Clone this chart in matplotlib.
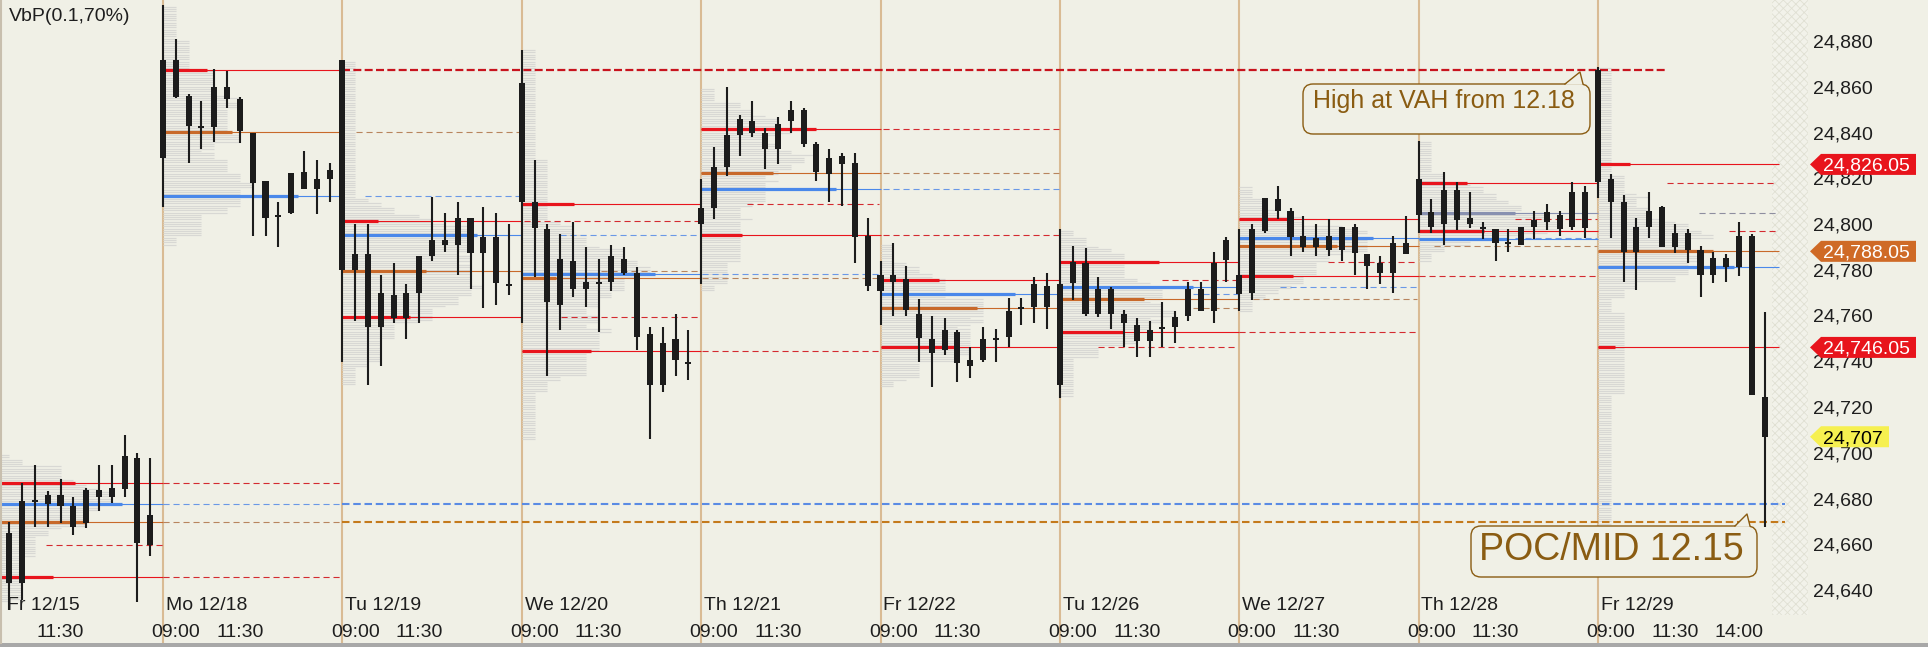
import numpy as np
import matplotlib
matplotlib.use("Agg")
import matplotlib.pyplot as plt
from matplotlib.patches import FancyBboxPatch, Polygon, Rectangle
from matplotlib.lines import Line2D
from matplotlib.transforms import Affine2D
from matplotlib.ticker import FuncFormatter

plt.rcParams['font.family'] = ['Liberation Sans', 'DejaVu Sans']
plt.rcParams['hatch.linewidth'] = 0.6

# ---------------------------------------------------------------- data
day_labels = ['Fr 12/15', 'Mo 12/18', 'Tu 12/19', 'We 12/20', 'Th 12/21',
              'Fr 12/22', 'Tu 12/26', 'We 12/27', 'Th 12/28', 'Fr 12/29']
time_labels = ['09:00', '11:30', '14:00']
time_label_bar = [1, 6, 11]
bars_per_day = 14
first_bar = 2            # first visible 30-min bar of Fr 12/15

bar_high = [
    # Fr 12/15
    24669.6, 24686.9, 24694.6, 24683.4, 24688.4, 24680.5, 24684.5, 24694.6, 24694.6, 24707.8, 24699.7, 24697.6,
    # Mo 12/18
    24895.7, 24880.7, 24856.7, 24853.8, 24867.6, 24867.0, 24855.6, 24839.9, 24818.8, 24809.7, 24822.5, 24831.9, 24828.0, 24826.8,
    # Tu 12/19
    24871.7, 24799.9, 24799.9, 24777.7, 24782.8, 24773.6, 24786.0, 24811.7, 24804.6, 24809.5, 24802.5, 24807.6, 24804.6, 24800.0,
    # We 12/20
    24876.1, 24828.0, 24799.9, 24795.6, 24801.0, 24789.8, 24784.7, 24790.8, 24789.8, 24781.3, 24754.8, 24754.8, 24760.7, 24753.7,
    # Th 12/21
    24819.5, 24833.5, 24859.8, 24847.7, 24853.8, 24841.8, 24846.6, 24853.8, 24850.6, 24835.7, 24832.7, 24830.9, 24830.9, 24802.5,
    # Fr 12/22
    24783.8, 24791.8, 24781.6, 24767.1, 24759.8, 24758.8, 24753.7, 24746.3, 24755.1, 24754.0, 24767.6, 24767.6, 24776.7, 24778.4,
    # Tu 12/26
    24797.7, 24790.5, 24789.7, 24776.7, 24772.6, 24762.6, 24758.8, 24757.6, 24765.8, 24761.8, 24774.5, 24774.5, 24787.6, 24794.4,
    # We 12/27
    24797.7, 24799.9, 24811.5, 24816.6, 24806.9, 24803.6, 24799.9, 24802.0, 24798.6, 24799.9, 24786.9, 24786.0, 24794.8, 24803.6,
    # Th 12/28
    24836.4, 24810.9, 24822.6, 24818.5, 24813.9, 24801.0, 24797.7, 24797.7, 24798.8, 24805.7, 24808.7, 24805.7, 24818.5, 24816.6,
    # Fr 12/29
    24868.8, 24821.9, 24812.7, 24802.5, 24813.9, 24807.9, 24800.0, 24797.7, 24790.4, 24787.9, 24786.9, 24801.0, 24795.6, 24761.7,
]
bar_low = [
    24631.3, 24635.6, 24667.7, 24667.7, 24669.2, 24664.0, 24667.0, 24674.7, 24677.9, 24680.8, 24634.9, 24654.9,
    24807.6, 24854.9, 24826.8, 24832.8, 24836.0, 24850.8, 24835.3, 24794.8, 24794.8, 24790.1, 24804.2, 24815.2, 24804.2, 24809.7,
    24739.8, 24757.6, 24729.6, 24737.9, 24756.9, 24749.7, 24756.9, 24784.0, 24787.9, 24777.7, 24771.8, 24763.1, 24764.6, 24769.0,
    24756.9, 24777.0, 24733.7, 24753.7, 24768.0, 24763.9, 24752.9, 24770.9, 24777.7, 24744.9, 24705.9, 24726.7, 24733.7, 24731.8,
    24773.8, 24802.0, 24821.1, 24829.7, 24838.2, 24823.9, 24826.1, 24839.9, 24833.8, 24819.0, 24809.7, 24808.0, 24783.1, 24770.9,
    24755.8, 24759.9, 24759.8, 24739.8, 24728.9, 24742.7, 24731.1, 24732.6, 24739.8, 24739.8, 24746.3, 24755.8, 24756.6, 24754.0,
    24724.1, 24766.8, 24759.9, 24759.2, 24754.0, 24746.3, 24742.0, 24742.0, 24746.3, 24748.0, 24757.6, 24762.0, 24756.9, 24774.8,
    24762.0, 24766.8, 24795.9, 24802.0, 24786.1, 24787.9, 24786.1, 24786.1, 24784.0, 24777.7, 24771.6, 24773.8, 24770.0, 24787.2,
    24795.9, 24795.9, 24790.8, 24797.4, 24798.1, 24793.3, 24784.0, 24787.9, 24790.8, 24793.3, 24797.4, 24794.8, 24797.4, 24794.0,
    24811.2, 24793.8, 24774.8, 24771.1, 24793.8, 24790.1, 24787.2, 24783.1, 24767.9, 24774.1, 24774.8, 24777.3, 24725.2, 24667.7,
]
body_top = [
    24664.8, 24678.9, 24678.8, 24681.5, 24681.5, 24676.7, 24683.7, 24683.7, 24684.5, 24698.6, 24697.6, 24672.8,
    24871.7, 24871.7, 24856.0, 24842.5, 24859.8, 24859.8, 24854.6, 24839.6, 24818.8, 24803.5, 24822.2, 24822.9, 24819.7, 24823.6,
    24871.7, 24786.9, 24786.9, 24769.7, 24769.0, 24769.7, 24786.0, 24793.0, 24793.0, 24802.5, 24802.5, 24794.4, 24794.4, 24773.3,
    24861.8, 24809.5, 24797.8, 24784.7, 24784.0, 24774.8, 24774.3, 24786.0, 24784.7, 24778.4, 24751.8, 24747.9, 24749.7, 24739.4,
    24806.9, 24824.8, 24838.9, 24845.8, 24845.0, 24839.9, 24843.7, 24849.8, 24849.8, 24835.0, 24829.0, 24829.7, 24826.5, 24794.8,
    24777.7, 24777.7, 24776.0, 24760.7, 24749.6, 24753.7, 24752.9, 24740.5, 24749.6, 24749.6, 24762.1, 24763.1, 24773.8, 24772.9,
    24773.8, 24783.5, 24782.8, 24771.5, 24771.5, 24760.7, 24755.8, 24753.7, 24754.4, 24759.5, 24771.5, 24771.5, 24782.8, 24793.0,
    24777.7, 24797.8, 24811.2, 24810.9, 24805.7, 24794.8, 24793.8, 24794.8, 24798.6, 24798.6, 24786.9, 24782.8, 24791.8, 24791.8,
    24819.6, 24805.1, 24814.9, 24814.9, 24802.5, 24798.4, 24797.7, 24791.6, 24798.8, 24801.7, 24805.1, 24803.9, 24813.9, 24814.1,
    24867.3, 24819.7, 24809.7, 24798.8, 24805.8, 24807.3, 24795.9, 24795.9, 24788.6, 24785.0, 24785.0, 24794.8, 24794.8, 24724.5,
]
body_bottom = [
    24642.9, 24642.9, 24678.8, 24677.6, 24676.9, 24667.7, 24669.2, 24680.8, 24680.8, 24684.0, 24660.7, 24659.7,
    24829.0, 24855.6, 24842.8, 24842.5, 24842.2, 24854.6, 24840.8, 24818.1, 24802.8, 24803.5, 24804.7, 24815.2, 24815.2, 24819.7,
    24779.9, 24779.9, 24755.1, 24755.1, 24758.8, 24759.1, 24770.0, 24786.0, 24790.8, 24790.8, 24787.2, 24787.2, 24774.0, 24773.3,
    24809.7, 24798.1, 24766.0, 24764.6, 24771.8, 24771.8, 24774.3, 24774.8, 24778.4, 24750.7, 24729.6, 24729.6, 24740.5, 24739.4,
    24800.0, 24807.1, 24825.1, 24838.9, 24839.9, 24832.8, 24832.8, 24845.2, 24835.0, 24822.6, 24821.9, 24826.1, 24794.2, 24772.9,
    24770.8, 24774.8, 24762.4, 24750.0, 24743.7, 24744.9, 24739.1, 24738.0, 24740.5, 24749.6, 24750.7, 24763.1, 24763.9, 24763.9,
    24729.6, 24774.0, 24760.7, 24760.7, 24760.7, 24756.9, 24749.0, 24749.0, 24754.4, 24755.1, 24759.9, 24762.0, 24762.0, 24784.3,
    24769.3, 24770.0, 24796.9, 24805.8, 24794.4, 24789.8, 24790.1, 24788.6, 24788.6, 24787.2, 24781.8, 24778.4, 24778.4, 24786.9,
    24804.0, 24798.8, 24800.0, 24801.7, 24800.0, 24798.4, 24791.8, 24791.6, 24791.0, 24798.8, 24801.0, 24797.7, 24798.8, 24798.1,
    24818.5, 24809.7, 24787.9, 24787.9, 24798.6, 24790.1, 24790.1, 24788.6, 24777.7, 24777.7, 24781.3, 24781.3, 24725.2, 24707.0,
]

price_ticks = list(range(24640, 24881, 20))

# daily VbP levels (value area high / POC / mid / value area low)
vah = [24686.8, 24867.3, 24801.3, 24808.6, 24841.5, 24775.7, 24783.5, 24802.3, 24817.8, 24826.05]
poc = [24669.7, 24840.4, 24779.6, 24776.5, 24822.3, 24763.3, 24767.2, 24790.4, 24804.9, 24788.05]
mid = [24677.6, 24812.2, 24795.2, 24778.0, 24815.4, 24769.4, 24772.6, 24793.8, 24793.6, 24781.3]
val = [24645.7, np.nan, 24759.5, 24744.6, 24795.3, 24746.4, 24752.6, 24777.4, 24796.9, 24746.05]
prior_level_1215 = 24659.7
last_price = 24707.0

# ------------------------------------------------------- layout / styles
# length (in bars) of the bold part of each level line
vah_thick = [7.1, 3.4, 2.8, 4.1, 9.0, 4.6, 7.7, 3.8, 3.8, 2.5]
poc_thick = [8.0, 5.4, 6.5, 2.7, 5.6, 7.5, 6.6, 7.6, 7.5, 9.0]
mid_thick = [10.8, 10.5, 10.5, 10.4, 10.5, 10.5, 10.4, 10.4, 7.0, 10.6]
val_thick = [5.4, np.nan, 5.3, 5.4, 3.2, 5.8, 4.9, 4.2, 5.1, 1.3]
# where the dashed extension starts in the following day (bars after day start)
vah_ext = [0.0, np.nan, 0.2, 3.6, 0.2, 8.0, 6.9, 7.5, 5.4, np.nan]
poc_ext = [0.0, 1.1, 6.2, 0.1, 0.2, 10.4, 1.1, 1.2, 7.9, np.nan]
mid_ext = [0.0, 1.8, 3.0, 0.1, 0.2, 10.4, 3.2, 7.5, np.nan, np.nan]
val_ext = [0.0, np.nan, 3.1, 0.1, 0.2, 3.0, 0.0, 0.0, 10.2, np.nan]

BG = '#F0F0E6'
CANDLE = '#1C1C1C'
RED, RED_D = '#E8141C', '#D42A30'
ORG, ORG_D = '#C8692A', '#B8845E'
BLU, BLU_D = '#4A88EA', '#6A98E6'
GRY, GRY_D = '#8890B0', '#8E8EA0'
SEP = '#D9BB94'
PROFILE = '#D8D8D4'
BROWN = '#8A5C12'
TXT = '#1E1E1E'
poc_colors = [(ORG, ORG_D)] * 8 + [(GRY, GRY_D), (ORG, ORG_D)]

W, H = 1928, 647
AXW = 1810
BAR_PX = 12.8125
X_REF_PX, X_REF = 163.0, 14
Y_REF_PX, Y_REF, PX_PER_PT = 41.0, 24880.0, 2.2875


def px2x(px):
    return X_REF + (px - X_REF_PX) / BAR_PX


def py2y(py):
    return Y_REF - (py - Y_REF_PX) / PX_PER_PT


fig = plt.figure(figsize=(W / 100, H / 100), dpi=100)
fig.patch.set_facecolor(BG)
ax = fig.add_axes([0, 0, AXW / W, 1])
ax.set_facecolor(BG)
pix = Affine2D().scale(1.0 / W, -1.0 / H).translate(0, 1) + fig.transFigure

xs = np.arange(first_bar, first_bar + len(bar_high))
hi = np.array(bar_high)
lo = np.array(bar_low)
bt = np.array(body_top)
bb = np.array(body_bottom)
day_start = np.arange(len(day_labels)) * bars_per_day
xl = px2x(0)

# right hatched margin
ax.add_patch(Rectangle((px2x(1772), py2y(615)), px2x(1808) - px2x(1772), py2y(0) - py2y(615),
                       facecolor='#F2F2EA', edgecolor='#E0E0D3', hatch='xxxx', lw=0, zorder=0.3))

# day separators
for s in day_start[1:]:
    ax.axvline(s, color=SEP, lw=1.5, zorder=1)

# volume-at-price style profile built from the bars of each day
for d, s in enumerate(day_start):
    m = (xs >= s) & (xs < s + bars_per_day)
    if not m.any():
        continue
    levels = np.arange(np.floor(lo[m].min()), np.ceil(hi[m].max()) + 0.5, 1.0)
    counts = np.array([np.sum((lo[m] <= v) & (hi[m] >= v)) for v in levels])
    ax.hlines(levels, s, s + counts * 1.0, color=PROFILE, lw=0.85, zorder=1.2)


def hline(y, x0, x1, color, lw, ls='-', z=2.0):
    ax.plot([x0, x1], [y, y], color=color, lw=lw, ls=ls,
            solid_capstyle='butt', dash_capstyle='butt', zorder=z)


DASH = (0, (5.5, 3.5))
kinds = [
    (vah, vah_thick, vah_ext, [(RED, RED_D)] * 10),
    (poc, poc_thick, poc_ext, poc_colors),
    (mid, mid_thick, mid_ext, [(BLU, BLU_D)] * 10),
    (val, val_thick, val_ext, [(RED, RED_D)] * 10),
]
for d, s in enumerate(day_start):
    day_len = bars_per_day if d < len(day_labels) - 1 else bars_per_day + 0.1
    for prices, thick, ext, cols in kinds:
        p = prices[d]
        if np.isnan(p):
            continue
        c, cd = cols[d]
        hline(p, max(s, xl), s + day_len, c, 0.8, z=2.0)
        hline(p, max(s, xl), s + thick[d], c, 2.3, z=2.1)
        if not np.isnan(ext[d]):
            hline(p, s + bars_per_day + ext[d], s + 2 * bars_per_day - 0.1, cd, 0.8, DASH, z=2.0)

# hand-drawn long references
hline(vah[1], day_start[2], 131.4, '#C8141E', 1.6, (0, (3.6, 1.5)), z=2.2)
hline(poc[0], day_start[2], 140.6, '#C47A1C', 1.5, (0, (3.6, 1.8)), z=2.2)
hline(mid[0], day_start[2], 140.6, '#5A8BE4', 1.5, (0, (3.6, 1.8)), z=2.2)
hline(prior_level_1215, 4.9, day_start[1], RED_D, 0.8, DASH, z=2.0)

# candles
ax.vlines(xs, lo, hi, color=CANDLE, lw=1.5, zorder=4)
min_h = 0.8
h = np.maximum(bt - bb, min_h)
bottom = (bt + bb) / 2 - h / 2
ax.bar(xs, h, bottom=bottom, width=0.47, color=CANDLE, linewidth=0, zorder=5)

# axes styling
ax.set_xlim(xl, px2x(AXW))
ax.set_ylim(py2y(H), py2y(0))
ax.set_xticks([])
ax.set_yticks(price_ticks)
ax.yaxis.tick_right()
ax.yaxis.set_major_formatter(FuncFormatter(lambda v, _: f'{v:,.0f}'))
ax.tick_params(axis='y', length=0, pad=2, labelsize=14, labelcolor=TXT)
for sp in ax.spines.values():
    sp.set_visible(False)

# date / time labels
for d, s in enumerate(day_start):
    ax.text(max(s + 0.22, px2x(7)), py2y(610), day_labels[d], ha='left', va='baseline',
            fontsize=14, color=TXT, zorder=6)
    n = 3 if d == len(day_labels) - 1 else 2
    for k in range(n):
        x = s + time_label_bar[k]
        if x < xl + 1:
            continue
        ax.text(x, py2y(637), time_labels[k], ha='center', va='baseline',
                fontsize=14, color=TXT, zorder=6)

ax.text(px2x(9), py2y(21), 'VbP(0.1,70%)', ha='left', va='baseline', fontsize=14, color=TXT)


# price tags on the right
def tag(price, text, fc, tc, right_px):
    hh = 10.5 / PX_PER_PT
    poly = Polygon([(px2x(1810), price), (px2x(1821), price + hh), (px2x(right_px), price + hh),
                    (px2x(right_px), price - hh), (px2x(1821), price - hh)],
                   closed=True, facecolor=fc, edgecolor='none', clip_on=False, zorder=10)
    ax.add_patch(poly)
    ax.text(px2x(1823), price, text, ha='left', va='center_baseline', fontsize=14,
            color=tc, clip_on=False, zorder=11)


tag(vah[9], f'{vah[9]:,.2f}', '#E8141C', 'white', 1916)
tag(poc[9], f'{poc[9]:,.2f}', '#CF6A26', 'white', 1916)
tag(val[9], f'{val[9]:,.2f}', '#E8141C', 'white', 1916)
tag(last_price, f'{last_price:,.0f}', '#F6F050', 'black', 1889)


# call-out boxes
def callout(x0, y0, w, h, base0, tip, base1, text, tx, ty, fs):
    fig.add_artist(FancyBboxPatch((x0, y0), w, h, boxstyle='round,pad=0,rounding_size=10',
                                  transform=pix, facecolor=BG, edgecolor=BROWN, lw=1.0, zorder=20))
    fig.add_artist(Polygon([(base0, y0 + 0.8), tip, (base1, y0 + 0.8)], closed=True,
                           transform=pix, facecolor=BG, edgecolor='none', zorder=21))
    fig.add_artist(Line2D([base0, tip[0], base1], [y0, tip[1], y0], transform=pix,
                          color=BROWN, lw=1.0, zorder=22))
    fig.text(tx, ty, text, transform=pix, ha='center', va='baseline', fontsize=fs,
             color=BROWN, zorder=23)


callout(1303, 84, 287, 50, 1565, (1580, 72), 1583, 'High at VAH from 12.18', 1444, 108, 18)
callout(1471, 526, 286, 51, 1735, (1747, 514), 1750, 'POC/MID 12.15', 1611, 560, 27)

# frame details
fig.add_artist(Rectangle((0, 643), W, 4, transform=pix, facecolor='#A8A8A8', edgecolor='none', zorder=30))
fig.add_artist(Line2D([1, 1], [0, 643], transform=pix, color='#C8BFAE', lw=1.5, zorder=30))

fig.savefig('out.png', dpi=100, facecolor=BG)
